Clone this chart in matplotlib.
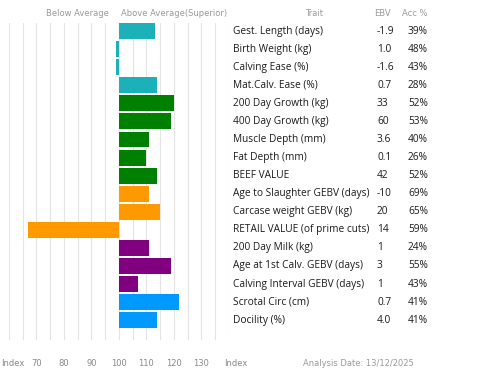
import matplotlib
matplotlib.use("Agg")
import matplotlib.pyplot as plt
from matplotlib.transforms import blended_transform_factory, ScaledTranslation
import numpy as np

# --- Data ---
traits = ["Gest. Length (days)", "Birth Weight (kg)", "Calving Ease (%)",
          "Mat.Calv. Ease (%)", "200 Day Growth (kg)", "400 Day Growth (kg)",
          "Muscle Depth (mm)", "Fat Depth (mm)", "BEEF VALUE",
          "Age to Slaughter GEBV (days)", "Carcase weight GEBV (kg)",
          "RETAIL VALUE (of prime cuts)", "200 Day Milk (kg)",
          "Age at 1st Calv. GEBV (days)", "Calving Interval GEBV (days)",
          "Scrotal Circ (cm)", "Docility (%)"]
ebv = ["-1.9", "1.0", "-1.6", "0.7", "33", "60", "3.6", "0.1", "42",
       "-10", "20", "14", "1", "3", "1", "0.7", "4.0"]
acc = ["39%", "48%", "43%", "28%", "52%", "53%", "40%", "26%", "52%",
       "69%", "65%", "59%", "24%", "55%", "43%", "41%", "41%"]
index_vals = [113, 99, 99, 114, 120, 119, 111, 110, 114,
              111, 115, 67, 111, 119, 107, 122, 114]
groups = ["calving"] * 4 + ["growth"] * 5 + ["carcase"] * 3 + ["maternal"] * 3 + ["other"] * 2

tick_vals = [60, 70, 80, 90, 100, 110, 120, 130, 140]
tick_labels = ["Index", "70", "80", "90", "100", "110", "120", "130", "Index"]

group_colors = {"calving": "#1cb0b8", "growth": "#008000", "carcase": "#ff9900",
                "maternal": "#800080", "other": "#0099ff"}

W, H = 480, 378
fig = plt.figure(figsize=(W / 100, H / 100), dpi=100)
ax = fig.add_axes([9 / W, 1 - 340 / H, 219.7 / W, 317 / H])

y = np.arange(len(traits))
widths = [v - 100 for v in index_vals]
cols = [group_colors[g] for g in groups]
ax.barh(y, widths, left=100, height=0.88, color=cols, zorder=3)

ax.set_xlim(60, 140)
ax.set_ylim(len(traits) - 1 + 1.1, -0.45)
for gx in np.arange(60, 141, 5):
    ax.axvline(gx, color="#e4e4e4", lw=0.8, zorder=1)

for s in ax.spines.values():
    s.set_visible(False)
ax.set_yticks([])
ax.set_xticks(tick_vals)
ax.set_xticklabels(tick_labels, fontsize=6, color="#888888", family="DejaVu Sans")
ax.tick_params(axis="x", length=0, pad=14)

# edge "Index" labels sit inside the figure
lbls = ax.get_xticklabels()
lbls[0].set_ha("left")
lbls[0].set_transform(lbls[0].get_transform() + ScaledTranslation(-8 / 100, 0, fig.dpi_scale_trans))
lbls[-1].set_ha("left")
lbls[-1].set_transform(lbls[-1].get_transform() + ScaledTranslation(-5 / 100, 0, fig.dpi_scale_trans))

# header over the bars
htr = blended_transform_factory(ax.transData, fig.transFigure)
ax.text(85, 1 - 14 / H, "Below Average", transform=htr, ha="center", va="center",
        fontsize=6, color="#999999")
ax.text(120, 1 - 14 / H, "Above Average(Superior)", transform=htr, ha="center",
        va="center", fontsize=6, color="#999999")

# table on the right
tr = blended_transform_factory(fig.transFigure, ax.transData)
fig.text(314 / W, 1 - 14 / H, "Trait", ha="center", va="center", fontsize=6, color="#999999")
fig.text(382 / W, 1 - 14 / H, "EBV", ha="center", va="center", fontsize=6, color="#999999")
fig.text(415 / W, 1 - 14 / H, "Acc %", ha="center", va="center", fontsize=6, color="#999999")
for i in range(len(traits)):
    ax.text(233 / W, i, traits[i], transform=tr, ha="left", va="center",
            fontsize=7.3, color="#1a1a1a", family="Open Sans")
    ax.text(377 / W, i, ebv[i], transform=tr, ha="left", va="center",
            fontsize=7.3, color="#1a1a1a", family="Open Sans")
    ax.text(408 / W, i, acc[i], transform=tr, ha="left", va="center",
            fontsize=7.3, color="#1a1a1a", family="Open Sans")

fig.text(358 / W, 1 - 364 / H, "Analysis Date: 13/12/2025", ha="center", va="center",
         fontsize=6, color="#999999")

fig.savefig("out.png", dpi=100)
